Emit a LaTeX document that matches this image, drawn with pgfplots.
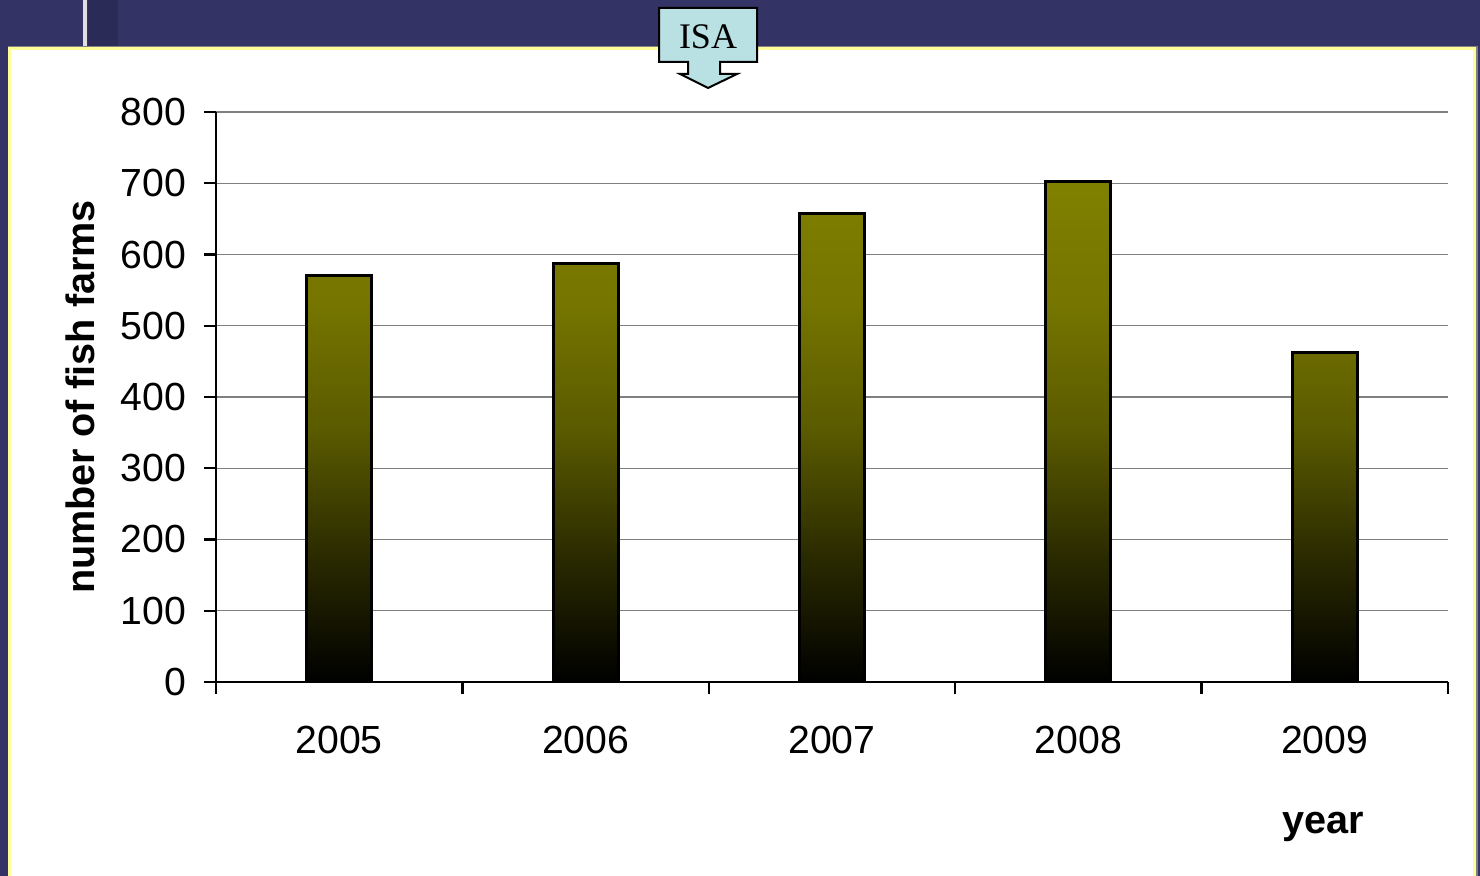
\documentclass[border=0pt]{standalone}
\usepackage{pgfplots}
\pgfplotsset{compat=1.18}
\usepackage{fontspec}
\setmainfont{Liberation Sans}
\newfontfamily\timesfont{Liberation Serif}
\definecolor{navy}{HTML}{333366}
\definecolor{panelborder}{HTML}{FFFF99}
\definecolor{olivebar}{HTML}{808000}
\definecolor{callout}{HTML}{B9E0E3}
% olive at the top of each bar, black at its foot
\pgfdeclareverticalshading{barshade}{100bp}{%
  color(0bp)=(black); color(25bp)=(black);
  color(37.5bp)=(olivebar!33!black); color(50bp)=(olivebar!70!black);
  color(62.5bp)=(olivebar!91!black); color(75bp)=(olivebar);
  color(100bp)=(olivebar)}

\begin{document}
\begin{tikzpicture}[x=0.25pt,y=-0.25pt]
\useasboundingbox (0,0) rectangle (1480,876);
% slide background
\fill[navy] (0,0) rectangle (1480,876);
\fill[navy!85!black] (88,0) rectangle (118,47);
\draw[line width=0.8pt, gray!25] (85,0) -- (85,47);
\draw[line width=0.3pt, gray] (8,47) -- (1477,47) -- (1477,876);
\filldraw[fill=white, draw=panelborder, line width=0.75pt] (9.5,48.5) rectangle (1474.5,890);
\coordinate (O) at (216,682);
\begin{axis}[
  at={(O)}, anchor=south west,
  scale only axis, width=308pt, height=142.5pt,
  xmin=-0.5, xmax=4.5, ymin=0, ymax=800,
  ytick={0,100,...,800},
  xtick={0,...,4}, xticklabels={2005,2006,2007,2008,2009},
  minor xtick={-0.5,0.5,...,4.5},
  major x tick style={draw=none},
  tick align=outside, major tick length=3pt, minor tick length=3pt,
  axis x line*=bottom, axis y line*=left,
  axis line style={line width=0.6pt, -},
  tick style={black, line width=0.6pt},
  ymajorgrids, grid style={gray, line width=0.3pt},
  tick label style={font=\fontsize{9.8}{11}\selectfont},
  /pgf/number format/assume math mode=true,
  xticklabel style={yshift=-4.5pt},
  yticklabel style={xshift=-1pt},
  label style={font=\fontsize{9.9}{11}\selectfont\bfseries},
  ylabel={number of fish farms},
  ylabel style={at={(axis description cs:-0.110,0.5)}, anchor=center},
  xlabel={year},
  xlabel style={at={(axis description cs:0.899,-0.254)}, anchor=center},
]
\addplot[ybar, bar width=16.25pt, draw=black, line width=0.75pt,
  shade, shading=barshade]
  coordinates {(0,571) (1,588) (2,657) (3,703) (4,463)};
\end{axis}
% ISA callout
\filldraw[fill=callout, draw=black, line width=0.5pt]
  (659,8) -- (757,8) -- (757,62) -- (720,62) -- (720,74) -- (737,74)
  -- (708,88) -- (680,74) -- (688,74) -- (688,62) -- (659,62) -- cycle;
\node[font=\timesfont\fontsize{9}{10}\selectfont] at (708,37) {ISA};
\end{tikzpicture}
\end{document}
